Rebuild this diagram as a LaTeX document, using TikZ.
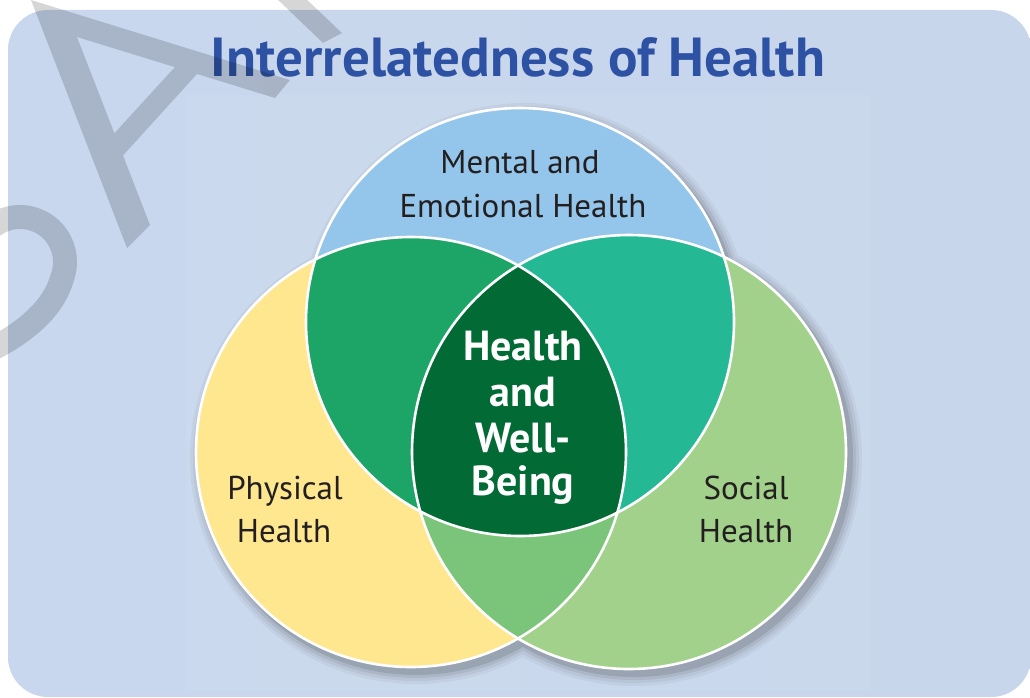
\documentclass[tikz,border=0pt]{standalone}
\usepackage{fontspec}
\setmainfont{PT Sans}
\definecolor{bgside}{HTML}{C9D7EE}
\definecolor{bgmid}{HTML}{DCE4F3}
\definecolor{bgright}{HTML}{C8D6EC}
\definecolor{titleblue}{HTML}{2E52A3}
\definecolor{labeltext}{HTML}{231F20}
\definecolor{mentfill}{HTML}{93C6EA}
\definecolor{physfill}{HTML}{FEE78F}
\definecolor{socfill}{HTML}{A1D18B}
\definecolor{physment}{HTML}{1CA566}
\definecolor{socment}{HTML}{25B895}
\definecolor{physsoc}{HTML}{7BC57B}
\definecolor{corefill}{HTML}{026A34}
\begin{document}
\begin{tikzpicture}[x=1pt,y=-1pt,
  heading/.style={text=titleblue, font=\bfseries\fontsize{55}{55}\selectfont, anchor=base, inner sep=0pt},
  lbl/.style={text=labeltext, font=\fontsize{33}{33}\selectfont, anchor=base, inner sep=0pt},
  corelbl/.style={text=white, font=\bfseries\fontsize{42}{42}\selectfont, anchor=base, inner sep=0pt},
  rim/.style={draw=white, line width=2.6pt},
  stamp/.style={black, opacity=0.16},
]
\def\radT{214pt}
\def\radL{215pt}
\def\radR{217pt}
\useasboundingbox (0,0) rectangle (1030,698);

% rounded background panel
\shade[left color=bgside, middle color=bgmid, right color=bgright, rounded corners=40pt]
  (8,10) rectangle (1031,697);
\fill[white, opacity=0.05] (186,95) rectangle (870,690);

% circle centres
\coordinate (cT) at (520,322);
\coordinate (cL) at (411,452);
\coordinate (cR) at (629,452);

% soft drop shadow under the three circles
\foreach \w/\o in {11/0.04, 8/0.05, 5/0.07, 2/0.10} {
  \fill[black, opacity=\o]
    ([shift={(5,6)}]cT) circle[radius=\radT+\w pt]
    ([shift={(5,6)}]cL) circle[radius=\radL+\w pt]
    ([shift={(5,6)}]cR) circle[radius=\radR+\w pt];
}

% single regions
\fill[physfill] (cL) circle[radius=\radL];
\fill[socfill] (cR) circle[radius=\radR];
\fill[mentfill] (cT) circle[radius=\radT];
% pairwise overlaps
\begin{scope}
  \clip (cL) circle[radius=\radL];
  \fill[physsoc] (cR) circle[radius=\radR];
  \fill[physment] (cT) circle[radius=\radT];
\end{scope}
\begin{scope}
  \clip (cR) circle[radius=\radR];
  \fill[socment] (cT) circle[radius=\radT];
\end{scope}
% common core
\begin{scope}
  \clip (cL) circle[radius=\radL];
  \clip (cR) circle[radius=\radR];
  \fill[corefill] (cT) circle[radius=\radT];
\end{scope}
% white outlines
\draw[rim] (cL) circle[radius=\radL];
\draw[rim] (cR) circle[radius=\radR];
\draw[rim] (cT) circle[radius=\radT];

% texts
\node[heading] (title) at (518,77) {Interrelatedness of Health};
\node[lbl] (ment1) at (520,173) {Mental and};
\node[lbl] (ment2) at (523,217) {Emotional Health};
\node[lbl] (phys1) at (285,499) {Physical};
\node[lbl] (phys2) at (284,542) {Health};
\node[lbl] (soc1) at (746,499) {Social};
\node[lbl] (soc2) at (746,542) {Health};
\node[corelbl] (core1) at (523,360) {Health};
\node[corelbl] (core2) at (523,406) {and};
\node[corelbl] (core3) at (523,452) {Well-};
\node[corelbl] (core4) at (523,495) {Being};

% grey stamp lettering over the top-left corner
\fill[stamp]
  (31,0) -- (290,80) -- (275,98) -- (77,37) -- (150,225) -- (127,248) -- cycle
  (110,138) -- (180,61.5) -- (202,68.5) -- (118,161) -- cycle
  (274,-4) -- (303,-4) -- (342,33) -- (323,43) -- cycle;
\draw[stamp, line width=24pt]
  (20,262) ++(-160:45) arc[start angle=-160, end angle=20, radius=45]
  .. controls (55,305) and (30,330) .. (-10,350);
\end{tikzpicture}
\end{document}
